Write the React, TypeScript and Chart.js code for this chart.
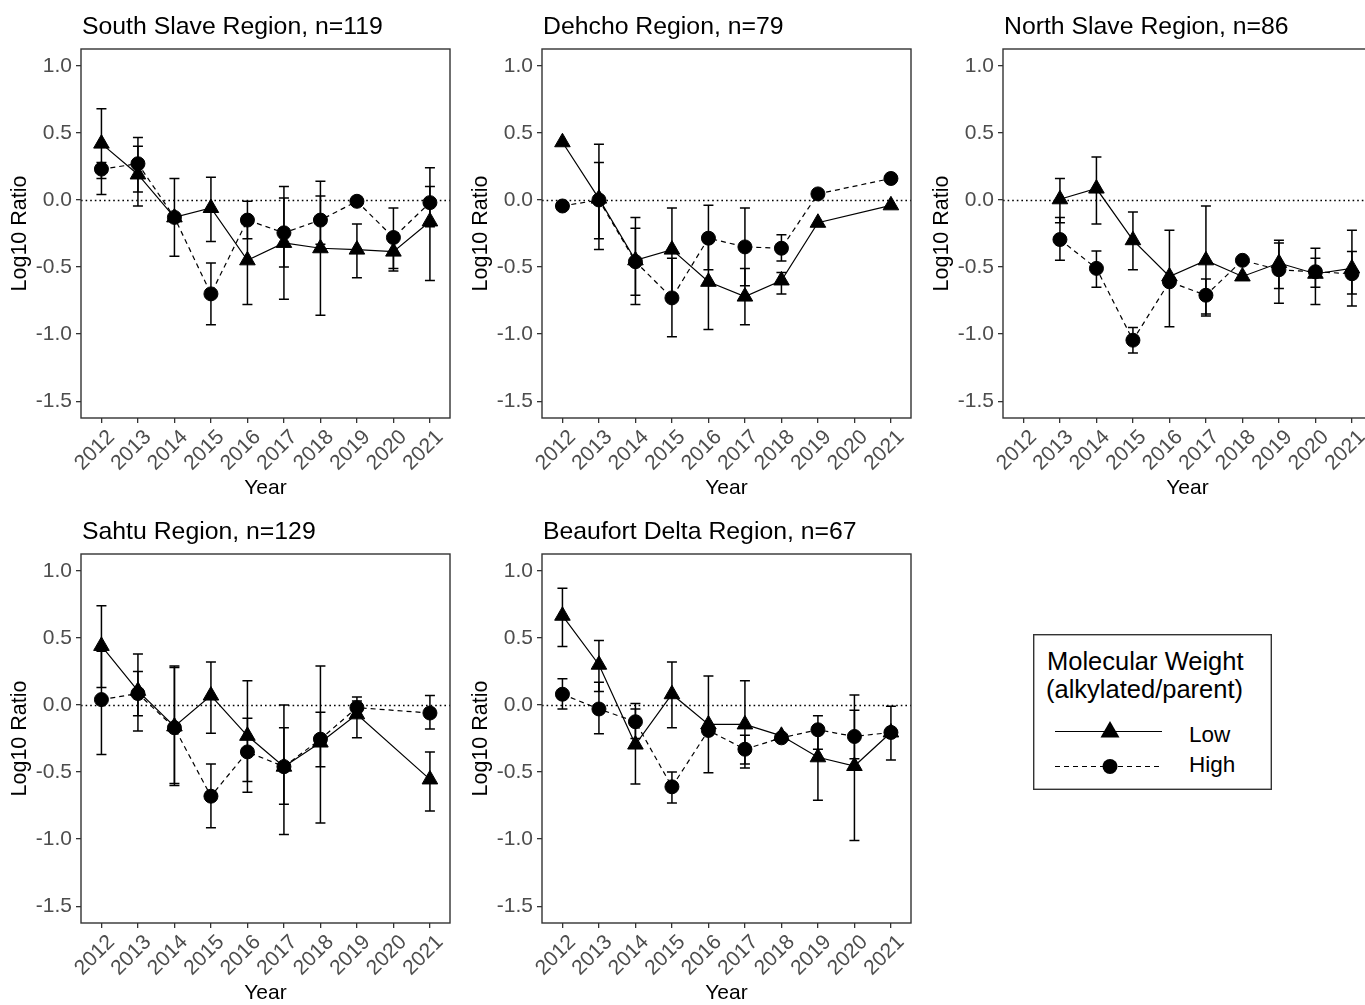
import React, { useEffect, useRef } from "react";
import { Chart, registerables } from "chart.js";

Chart.register(...registerables);

const FONT = "'Liberation Sans', Arial, Helvetica, sans-serif";

// ---- categories / ticks ----
const years = [2012, 2013, 2014, 2015, 2016, 2017, 2018, 2019, 2020, 2021];
const yTickValues = [-1.5, -1.0, -0.5, 0.0, 0.5, 1.0];

// ---- South Slave Region, n=119 ----
const ssLow = [0.42, 0.19, -0.13, -0.06, -0.45, -0.32, -0.36, -0.37, -0.385, -0.16];
const ssLowLo = [0.16, -0.045, -0.42, -0.31, -0.78, -0.74, -0.86, -0.58, -0.53, -0.6];
const ssLowHi = [0.68, 0.4, 0.16, 0.17, -0.12, 0.1, 0.14, -0.18, -0.25, 0.1];
const ssHigh = [0.23, 0.27, -0.13, -0.7, -0.15, -0.245, -0.15, -0.01, -0.28, -0.02];
const ssHighLo = [0.04, 0.06, null, -0.93, -0.29, -0.5, -0.33, null, -0.51, -0.2];
const ssHighHi = [0.28, 0.465, null, -0.47, -0.01, 0.015, 0.03, null, -0.06, 0.24];

// ---- Dehcho Region, n=79 ----
const dcLow = [0.43, 0.01, -0.45, -0.37, -0.61, -0.72, -0.6, -0.17, null, -0.04];
const dcLowLo = [null, -0.37, -0.78, -0.7, -0.965, -0.93, -0.7, null, null, null];
const dcLowHi = [null, 0.415, -0.13, -0.06, -0.25, -0.51, -0.54, null, null, null];
const dcHigh = [-0.045, 0.0, -0.46, -0.73, -0.285, -0.35, -0.36, 0.045, null, 0.16];
const dcHighLo = [null, -0.29, -0.71, -1.02, -0.52, -0.64, -0.455, null, null, null];
const dcHighHi = [null, 0.28, -0.21, -0.435, -0.04, -0.06, -0.26, null, null, null];

// ---- North Slave Region, n=86 ----
const nsLow = [null, 0.005, 0.085, -0.3, -0.57, -0.45, -0.57, -0.47, -0.55, -0.51];
const nsLowLo = [null, -0.17, -0.18, -0.52, -0.945, -0.85, null, -0.66, -0.65, -0.7];
const nsLowHi = [null, 0.16, 0.32, -0.09, -0.225, -0.045, null, -0.3, -0.435, -0.385];
const nsHigh = [null, -0.295, -0.51, -1.045, -0.61, -0.71, -0.45, -0.52, -0.535, -0.55];
const nsHighLo = [null, -0.45, -0.65, -1.14, null, -0.865, null, -0.77, -0.78, -0.79];
const nsHighHi = [null, -0.13, -0.38, -0.95, null, -0.59, null, -0.32, -0.36, -0.225];

// ---- Sahtu Region, n=129 ----
const saLow = [0.44, 0.105, -0.16, 0.07, -0.23, -0.46, -0.28, -0.07, null, -0.555];
const saLowLo = [0.13, -0.195, -0.6, -0.21, -0.65, -0.965, -0.88, -0.245, null, -0.79];
const saLowHi = [0.74, 0.38, 0.29, 0.32, 0.18, 0.0, 0.29, 0.03, null, -0.35];
const saHigh = [0.04, 0.085, -0.17, -0.68, -0.35, -0.46, -0.255, -0.02, null, -0.06];
const saHighLo = [-0.37, -0.08, -0.585, -0.915, -0.57, -0.74, -0.46, -0.08, null, -0.18];
const saHighHi = [0.4, 0.25, 0.28, -0.44, -0.1, -0.17, -0.055, 0.06, null, 0.07];

// ---- Beaufort Delta Region, n=67 ----
const bdLow = [0.665, 0.3, -0.295, 0.08, -0.145, -0.145, -0.23, -0.39, -0.455, -0.205];
const bdLowLo = [0.435, 0.1, -0.59, -0.17, -0.505, -0.47, null, -0.71, -1.01, -0.41];
const bdLowHi = [0.87, 0.48, -0.03, 0.32, 0.215, 0.18, null, -0.2, 0.075, -0.01];
const bdHigh = [0.08, -0.03, -0.125, -0.61, -0.19, -0.33, -0.245, -0.185, -0.235, -0.205];
const bdHighLo = [-0.03, -0.215, -0.25, -0.73, null, -0.44, null, -0.33, -0.4, null];
const bdHighHi = [0.195, 0.17, 0.01, -0.5, null, -0.225, null, -0.08, -0.04, null];

type Arr = (number | null)[];
interface PanelCfg {
  title: string;
  low: Arr; lowLo: Arr; lowHi: Arr;
  high: Arr; highLo: Arr; highHi: Arr;
  left: number; top: number;
}

const panels: PanelCfg[] = [
  { title: "South Slave Region, n=119", low: ssLow, lowLo: ssLowLo, lowHi: ssLowHi, high: ssHigh, highLo: ssHighLo, highHi: ssHighHi, left: 0, top: 0 },
  { title: "Dehcho Region, n=79", low: dcLow, lowLo: dcLowLo, lowHi: dcLowHi, high: dcHigh, highLo: dcHighLo, highHi: dcHighHi, left: 461, top: 0 },
  { title: "North Slave Region, n=86", low: nsLow, lowLo: nsLowLo, lowHi: nsLowHi, high: nsHigh, highLo: nsHighLo, highHi: nsHighHi, left: 922, top: 0 },
  { title: "Sahtu Region, n=129", low: saLow, lowLo: saLowLo, lowHi: saLowHi, high: saHigh, highLo: saHighLo, highHi: saHighHi, left: 0, top: 505 },
  { title: "Beaufort Delta Region, n=67", low: bdLow, lowLo: bdLowLo, lowHi: bdLowHi, high: bdHigh, highLo: bdHighLo, highHi: bdHighHi, left: 461, top: 505 },
];

const CANVAS_W = 460;
const CANVAS_H = 505;

const decorPlugin = {
  id: "panelDecor",
  beforeDatasetsDraw(chart: any) {
    const { ctx, chartArea: a, scales } = chart;
    const x = scales.x;
    const y = scales.y;
    ctx.save();
    // dotted zero reference line
    const y0 = Math.round(y.getPixelForValue(0)) + 0.5;
    ctx.strokeStyle = "#000";
    ctx.lineWidth = 1.4;
    ctx.setLineDash([1.6, 3]);
    ctx.beginPath();
    ctx.moveTo(a.left, y0);
    ctx.lineTo(a.right, y0);
    ctx.stroke();
    ctx.setLineDash([]);
    // error bars
    ctx.lineWidth = 1.5;
    chart.data.datasets.forEach((ds: any) => {
      const lo: Arr = ds.errLo;
      const hi: Arr = ds.errHi;
      ds.data.forEach((p: any, i: number) => {
        if (lo[i] == null || hi[i] == null) return;
        const px = x.getPixelForValue(p.x);
        const pl = y.getPixelForValue(lo[i]);
        const ph = y.getPixelForValue(hi[i]);
        ctx.beginPath();
        ctx.moveTo(px, pl);
        ctx.lineTo(px, ph);
        ctx.moveTo(px - 5, pl);
        ctx.lineTo(px + 5, pl);
        ctx.moveTo(px - 5, ph);
        ctx.lineTo(px + 5, ph);
        ctx.stroke();
      });
    });
    ctx.restore();
  },
  afterDraw(chart: any, _args: any, opts: any) {
    const { ctx, chartArea: a } = chart;
    ctx.save();
    ctx.strokeStyle = "#333333";
    ctx.lineWidth = 1.4;
    ctx.strokeRect(a.left, a.top, a.right - a.left, a.bottom - a.top);
    ctx.fillStyle = "#000";
    ctx.font = `24.8px ${FONT}`;
    ctx.textAlign = "left";
    ctx.textBaseline = "middle";
    ctx.fillText(opts.title, a.left + 1, a.top - 22);
    ctx.restore();
  },
};

function buildConfig(p: PanelCfg): any {
  const toPts = (vals: Arr) => years.map((yr, i) => ({ x: yr, y: vals[i] }));
  const tickFont = { family: FONT, size: 21 };
  const grid = { drawOnChartArea: false, drawTicks: true, tickLength: 5, color: "#333333", lineWidth: 1.3 };
  return {
    type: "line",
    data: {
      datasets: [
        {
          label: "Low",
          data: toPts(p.low),
          errLo: p.lowLo,
          errHi: p.lowHi,
          borderColor: "#000",
          backgroundColor: "#000",
          borderWidth: 1.2,
          pointStyle: "triangle",
          pointRadius: 9,
          pointBorderWidth: 1,
          pointBackgroundColor: "#000",
          pointBorderColor: "#000",
          spanGaps: true,
          fill: false,
          tension: 0,
        },
        {
          label: "High",
          data: toPts(p.high),
          errLo: p.highLo,
          errHi: p.highHi,
          borderColor: "#000",
          backgroundColor: "#000",
          borderWidth: 1.2,
          borderDash: [5, 4],
          pointStyle: "circle",
          pointRadius: 7,
          pointBorderWidth: 1,
          pointBackgroundColor: "#000",
          pointBorderColor: "#000",
          spanGaps: true,
          fill: false,
          tension: 0,
        },
      ],
    },
    options: {
      responsive: false,
      animation: false,
      events: [],
      layout: { padding: { top: 49, right: 8, bottom: 0, left: 0 } },
      plugins: {
        legend: { display: false },
        tooltip: { enabled: false },
        title: { display: false },
        panelDecor: { title: p.title },
      },
      scales: {
        x: {
          type: "linear",
          min: 2011.44,
          max: 2021.55,
          afterBuildTicks: (s: any) => {
            s.ticks = years.map((v) => ({ value: v }));
          },
          afterFit: (s: any) => {
            s.height = 87;
          },
          ticks: {
            color: "#4d4d4d",
            font: tickFont,
            minRotation: 45,
            maxRotation: 45,
            autoSkip: false,
            padding: 2,
            labelOffset: 10,
            callback: (v: any) => String(v),
          },
          grid,
          border: { display: false },
          title: {
            display: true,
            text: "Year",
            color: "#000",
            font: { family: FONT, size: 21 },
            padding: { top: 0, bottom: 4 },
          },
        },
        y: {
          type: "linear",
          min: -1.625,
          max: 1.125,
          afterBuildTicks: (s: any) => {
            s.ticks = yTickValues.map((v) => ({ value: v }));
          },
          afterFit: (s: any) => {
            s.width = 81;
          },
          ticks: {
            color: "#4d4d4d",
            font: tickFont,
            padding: 4,
            callback: (v: any) => Number(v).toFixed(1),
          },
          grid,
          border: { display: false },
          title: {
            display: true,
            text: "Log10 Ratio",
            color: "#000",
            font: { family: FONT, size: 21.5 },
            padding: { top: 7, bottom: 0 },
          },
        },
      },
    },
    plugins: [decorPlugin],
  };
}

function Panel({ cfg }: { cfg: PanelCfg }) {
  const ref = useRef<HTMLCanvasElement>(null);
  useEffect(() => {
    if (!ref.current) return;
    const chart = new Chart(ref.current, buildConfig(cfg));
    return () => chart.destroy();
  }, [cfg]);
  return (
    <canvas
      ref={ref}
      width={CANVAS_W}
      height={CANVAS_H}
      style={{ position: "absolute", left: cfg.left, top: cfg.top, width: CANVAS_W, height: CANVAS_H }}
    />
  );
}

function Legend() {
  const W = 239;
  const H = 156;
  return (
    <div style={{ position: "absolute", left: 1033, top: 634, width: W, height: H }}>
      <svg width={W} height={H} style={{ position: "absolute", left: 0, top: 0 }}>
        <rect x={0.7} y={0.7} width={W - 1.4} height={H - 1.4} fill="#fff" stroke="#333" strokeWidth={1.4} />
        <text x={14} y={36} fontFamily={FONT} fontSize={25.5} fill="#000">Molecular Weight</text>
        <text x={13} y={64} fontFamily={FONT} fontSize={25.5} fill="#000">(alkylated/parent)</text>
        <line x1={22} x2={129} y1={97.5} y2={97.5} stroke="#000" strokeWidth={1.2} />
        <polygon points="77,87 86.5,103.5 67.5,103.5" fill="#000" />
        <line x1={22} x2={129} y1={132.5} y2={132.5} stroke="#000" strokeWidth={1.2} strokeDasharray="5 4" />
        <circle cx={77} cy={132.5} r={7.5} fill="#000" />
        <text x={156} y={107.5} fontFamily={FONT} fontSize={22.5} fill="#000">Low</text>
        <text x={156} y={138} fontFamily={FONT} fontSize={22.5} fill="#000">High</text>
      </svg>
    </div>
  );
}

export default function App() {
  return (
    <div
      style={{
        position: "absolute",
        left: 0,
        top: 0,
        width: 1365,
        height: 1005,
        overflow: "hidden",
        background: "#fff",
      }}
    >
      {panels.map((p) => (
        <Panel key={p.title} cfg={p} />
      ))}
      <Legend />
    </div>
  );
}
